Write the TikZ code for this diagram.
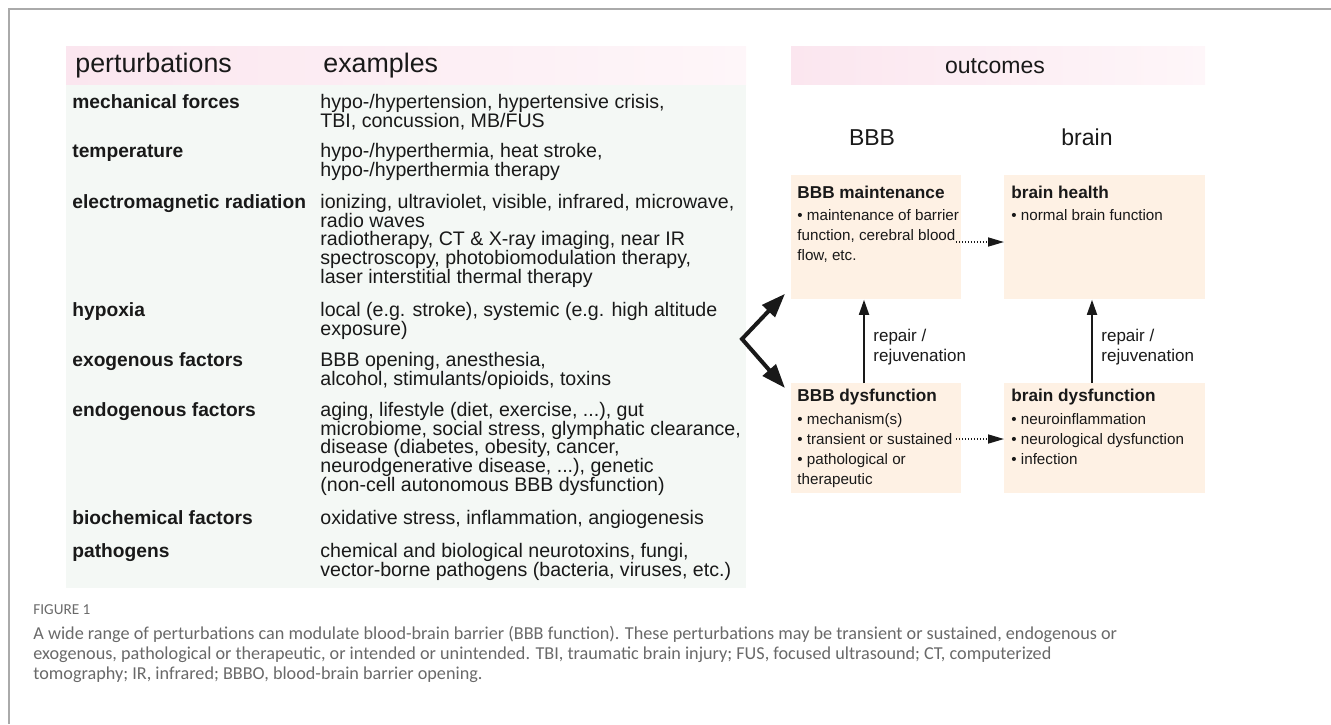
\documentclass[tikz,border=0pt]{standalone}
\usepackage{fontspec}
\setmainfont{Liberation Sans}
\newfontfamily\capfont{Carlito}
\usetikzlibrary{arrows.meta,calc}
\definecolor{txt}{RGB}{25,25,25}
\definecolor{pinkL}{RGB}{251,230,239}
\definecolor{pinkR}{RGB}{254,246,249}
\definecolor{mint}{RGB}{244,248,245}
\definecolor{peach}{RGB}{254,241,228}
\definecolor{framegray}{RGB}{170,170,170}
\definecolor{capgray}{RGB}{105,105,105}
\begin{document}
\begin{tikzpicture}[x=0.5pt,y=-0.5pt,
  head/.style={anchor=base west,inner sep=0,font=\fontsize{13.4}{16}\selectfont,text=txt},
  outhead/.style={anchor=base,inner sep=0,font=\fontsize{11.5}{14}\selectfont,text=txt},
  kind/.style={anchor=base west,inner sep=0,font=\fontsize{9.6}{9.25}\selectfont\bfseries,text=txt},
  expl/.style={anchor=north west,inner sep=0,align=left,font=\fontsize{9.8}{9.3}\selectfont,text=txt},
  outbox/.style={anchor=north west,inner sep=0,fill=peach},
  boxtitle/.style={anchor=base west,inner sep=0,font=\fontsize{8.6}{10}\selectfont\bfseries,text=txt},
  boxtext/.style={anchor=north west,inner sep=0,align=left,font=\fontsize{7.6}{10}\selectfont,text=txt},
  replabel/.style={anchor=north west,inner sep=0,align=left,font=\fontsize{8.5}{10}\selectfont,text=txt},
  uparrow/.style={-{Triangle[length=7.5pt,width=5pt]},line width=0.9pt,txt},
  dotarrow/.style={-{Triangle[length=8pt,width=4.5pt]},line width=0.8pt,dash pattern=on 0.6pt off 0.9pt,txt},
  forkarrow/.style={{Triangle[length=12pt,width=8.5pt]}-{Triangle[length=12pt,width=8.5pt]},line width=2pt,line join=miter,txt},
  capline/.style={anchor=north west,inner sep=0,align=left,font=\capfont\fontsize{9.1}{10}\selectfont,text=capgray}]
\useasboundingbox (0,0) rectangle (1331,724);
\draw[framegray,line width=1pt] (1331,9) -- (9,9) -- (9,724);

% bands
\shade[left color=pinkL,right color=pinkR] (66,46) rectangle (746,85);
\fill[mint] (66,85) rectangle (746,588);
\shade[left color=pinkL,right color=pinkR] (791,46) rectangle (1205,84);

\node[head] (perturb) at (75,72) {perturbations};
\node[head] (exam) at (323,72) {examples};
\node[outhead] (outc) at (995,73) {outcomes};
\node[outhead] (bbb) at (872,145) {BBB};
\node[outhead] (brain) at (1087,145) {brain};

% perturbations
\node[kind] (mech) at (72,108) {mechanical forces};
\node[expl] (mech-ex) at (320,94) {hypo-/hypertension, hypertensive crisis,\\TBI, concussion, MB/FUS};
\node[kind] (temp) at (72,157) {temperature};
\node[expl] (temp-ex) at (320,143) {hypo-/hyperthermia, heat stroke,\\hypo-/hyperthermia therapy};
\node[kind] (emrad) at (72,208) {electromagnetic radiation};
\node[expl] (emrad-ex) at (320,194) {ionizing, ultraviolet, visible, infrared, microwave,\\radio waves\\radiotherapy, CT \& X-ray imaging, near IR\\spectroscopy, photobiomodulation therapy,\\laser interstitial thermal therapy};
\node[kind] (hypox) at (72,316) {hypoxia};
\node[expl] (hypox-ex) at (320,302) {local (e.g. stroke), systemic (e.g. high altitude\\exposure)};
\node[kind] (exo) at (72,366) {exogenous factors};
\node[expl] (exo-ex) at (320,352) {BBB opening, anesthesia,\\alcohol, stimulants/opioids, toxins};
\node[kind] (endo) at (72,416) {endogenous factors};
\node[expl] (endo-ex) at (320,402) {aging, lifestyle (diet, exercise, ...), gut\\microbiome, social stress, glymphatic clearance,\\disease (diabetes, obesity, cancer,\\neurodgenerative disease, ...), genetic\\(non-cell autonomous BBB dysfunction)};
\node[kind] (bioch) at (72,524) {biochemical factors};
\node[expl] (bioch-ex) at (320,510) {oxidative stress, inflammation, angiogenesis};
\node[kind] (patho) at (72,557) {pathogens};
\node[expl] (patho-ex) at (320,543) {chemical and biological neurotoxins, fungi,\\vector-borne pathogens (bacteria, viruses, etc.)};

% outcomes
\node[outbox,minimum width=85pt,minimum height=62pt] (maint) at (791,175) {};
\node[outbox,minimum width=100.5pt,minimum height=62pt] (health) at (1004,175) {};
\node[outbox,minimum width=85pt,minimum height=55pt] (dysf) at (791,383) {};
\node[outbox,minimum width=100.5pt,minimum height=55pt] (brdys) at (1004,383) {};

\node[boxtitle] (maint-t) at (797,198) {BBB maintenance};
\node[boxtext] (maint-x) at (797,209) {• maintenance of barrier\\function, cerebral blood\\flow, etc.};
\node[boxtitle] (health-t) at (1011,198) {brain health};
\node[boxtext] (health-x) at (1011,209) {• normal brain function};
\node[boxtitle] (dysf-t) at (797,401) {BBB dysfunction};
\node[boxtext] (dysf-x) at (797,413) {• mechanism(s)\\• transient or sustained\\• pathological or\\therapeutic};
\node[boxtitle] (brdys-t) at (1011,401) {brain dysfunction};
\node[boxtext] (brdys-x) at (1011,413) {• neuroinflammation\\• neurological dysfunction\\• infection};

\node[replabel] (rep1) at (873,329) {repair /\\rejuvenation};
\node[replabel] (rep2) at (1101,329) {repair /\\rejuvenation};

\coordinate (up1) at (864,0);
\coordinate (up2) at (1092,0);
\draw[uparrow] (dysf.north -| up1) -- (maint.south -| up1);
\draw[uparrow] (brdys.north -| up2) -- (health.south -| up2);

\coordinate (dot1) at (0,242);
\coordinate (dot2) at (0,439);
\draw[dotarrow,shorten <=-3pt] (maint.east |- dot1) -- (health.west |- dot1);
\draw[dotarrow,shorten <=-3pt] (dysf.east |- dot2) -- (brdys.west |- dot2);

\coordinate (fork) at (742,339);
\draw[forkarrow] ($(maint.south west)+(-6,-6)$) -- (fork) -- ($(dysf.north west)+(-6,5)$);

% caption
\node[capline,anchor=base west,font=\capfont\fontsize{7.6}{8}\selectfont] (fig) at (33,614) {FIGURE 1};
\node[capline] (cap) at (33,626) {A wide range of perturbations can modulate blood-brain barrier (BBB function). These perturbations may be transient or sustained, endogenous or\\exogenous, pathological or therapeutic, or intended or unintended. TBI, traumatic brain injury; FUS, focused ultrasound; CT, computerized\\tomography; IR, infrared; BBBO, blood-brain barrier opening.};
\end{tikzpicture}
\end{document}
